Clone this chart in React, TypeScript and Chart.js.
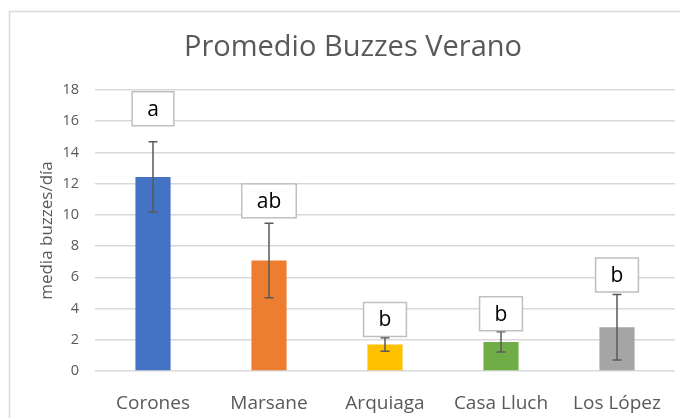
import { useEffect, useRef } from "react";
import { Chart, registerables } from "chart.js";

Chart.register(...registerables);

const categories = ["Corones", "Marsane", "Arquiaga", "Casa Lluch", "Los López"];
const means = [12.43, 7.08, 1.7, 1.86, 2.8];
const errors = [2.25, 2.39, 0.43, 0.65, 2.1];
const letters = ["a", "ab", "b", "b", "b"];
const letterLevels = [16.8, 10.9, 3.3, 3.67, 6.15];
const barColors = ["#4472C4", "#ED7D31", "#FFC000", "#70AD47", "#A5A5A5"];
const yMin = 0;
const yMax = 18;
const yStep = 2;
const chartTitle = "Promedio Buzzes Verano";
const yTitle = "media buzzes/día";

const FONT = "'Open Sans', sans-serif";
const GREY_TEXT = "#595959";

const framePlugin = {
  id: "frame",
  beforeDraw(chart: any) {
    const ctx = chart.ctx;
    ctx.save();
    ctx.fillStyle = "#ffffff";
    ctx.fillRect(0, 0, chart.width, chart.height);
    ctx.strokeStyle = "#d9d9d9";
    ctx.lineWidth = 1.5;
    ctx.strokeRect(9.5, 11.5, chart.width + 40, chart.height + 40);
    ctx.restore();
  },
};

const annotatePlugin = {
  id: "annotate",
  afterDatasetsDraw(chart: any) {
    const ctx = chart.ctx;
    const yScale = chart.scales.y;
    const meta = chart.getDatasetMeta(0);
    ctx.save();
    meta.data.forEach((bar: any, i: number) => {
      const x = bar.x;
      const top = yScale.getPixelForValue(means[i] + errors[i]);
      const bot = yScale.getPixelForValue(means[i] - errors[i]);
      ctx.strokeStyle = "#595959";
      ctx.lineWidth = 1.5;
      ctx.beginPath();
      ctx.moveTo(x, top);
      ctx.lineTo(x, bot);
      ctx.moveTo(x - 4.5, top);
      ctx.lineTo(x + 4.5, top);
      ctx.moveTo(x - 4.5, bot);
      ctx.lineTo(x + 4.5, bot);
      ctx.stroke();
    });
    ctx.font = `21px ${FONT}`;
    ctx.textAlign = "center";
    ctx.textBaseline = "middle";
    meta.data.forEach((bar: any, i: number) => {
      const x = bar.x;
      const cy = yScale.getPixelForValue(letterLevels[i]);
      const w = ctx.measureText(letters[i]).width + 30;
      const h = 34;
      ctx.fillStyle = "#ffffff";
      ctx.fillRect(x - w / 2, cy - h / 2, w, h);
      ctx.strokeStyle = "#bfbfbf";
      ctx.lineWidth = 1.5;
      ctx.strokeRect(x - w / 2, cy - h / 2, w, h);
      ctx.fillStyle = "#000000";
      ctx.fillText(letters[i], x, cy + 1);
    });
    ctx.restore();
  },
};

export default function App() {
  const ref = useRef<HTMLCanvasElement | null>(null);

  useEffect(() => {
    if (!ref.current) return;
    const chart = new Chart(ref.current, {
      type: "bar",
      data: {
        labels: categories,
        datasets: [
          {
            data: means,
            backgroundColor: barColors,
            borderWidth: 0,
            barPercentage: 0.303,
            categoryPercentage: 1,
          },
        ],
      },
      options: {
        responsive: false,
        animation: false,
        devicePixelRatio: 1,
        layout: { padding: { left: 31, right: 5, top: 0, bottom: 0 } },
        plugins: {
          legend: { display: false },
          tooltip: { enabled: false },
          title: {
            display: true,
            text: chartTitle,
            color: GREY_TEXT,
            font: { family: FONT, size: 29, weight: "normal" },
            padding: { top: 30.5, bottom: 24.7 },
          },
        },
        scales: {
          x: {
            grid: { display: false },
            border: { display: false },
            ticks: {
              color: GREY_TEXT,
              font: { family: FONT, size: 19 },
              padding: 13,
              maxRotation: 0,
            },
            afterFit(scale: any) {
              scale.height = 47;
            },
          },
          y: {
            min: yMin,
            max: yMax,
            grid: { color: "#d9d9d9", lineWidth: 1.5, drawTicks: false },
            border: { display: false },
            ticks: {
              stepSize: yStep,
              color: GREY_TEXT,
              font: { family: FONT, size: 14.5 },
              padding: 16,
            },
            title: {
              display: true,
              text: yTitle,
              color: GREY_TEXT,
              font: { family: FONT, size: 17 },
              padding: { top: 6, bottom: 0 },
            },
            afterFit(scale: any) {
              scale.width = 64;
            },
          },
        },
      },
      plugins: [framePlugin, annotatePlugin],
    });
    return () => chart.destroy();
  }, []);

  return (
    <div style={{ position: "fixed", left: 0, top: 0, width: 680, height: 418 }}>
      <canvas ref={ref} width={680} height={418} />
    </div>
  );
}
